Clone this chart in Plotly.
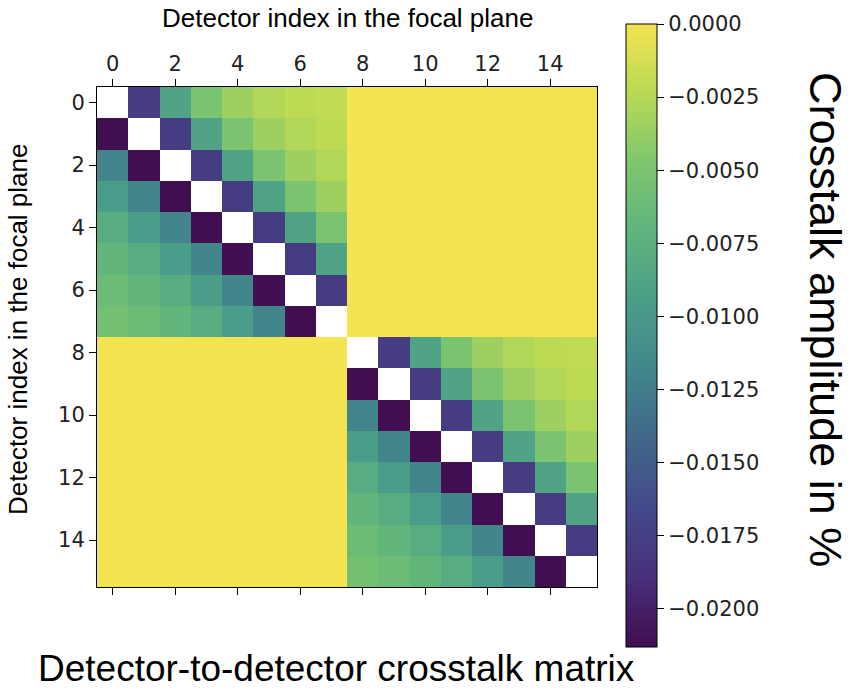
import plotly.graph_objects as go

# Detector indices
detectors = list(range(16))
tick_vals = [0, 2, 4, 6, 8, 10, 12, 14]

# Crosstalk within one group of 8 detectors (row i, column j); None = self (diagonal)
block_rows = [
    [None,    -0.0178, -0.0088, -0.0051, -0.0035, -0.0027, -0.0022, -0.0020],
    [-0.0212, None,    -0.0178, -0.0088, -0.0051, -0.0035, -0.0027, -0.0022],
    [-0.0118, -0.0212, None,    -0.0178, -0.0088, -0.0051, -0.0035, -0.0027],
    [-0.0096, -0.0118, -0.0212, None,    -0.0178, -0.0088, -0.0051, -0.0035],
    [-0.0080, -0.0096, -0.0118, -0.0212, None,    -0.0178, -0.0088, -0.0051],
    [-0.0069, -0.0080, -0.0096, -0.0118, -0.0212, None,    -0.0178, -0.0088],
    [-0.0061, -0.0069, -0.0080, -0.0096, -0.0118, -0.0212, None,    -0.0178],
    [-0.0056, -0.0061, -0.0069, -0.0080, -0.0096, -0.0118, -0.0212, None],
]
between_groups = 0.0

cbar_ticks = [0.0, -0.0025, -0.005, -0.0075, -0.01, -0.0125, -0.015, -0.0175, -0.02]
zmin, zmax = -0.0213, 0.0

# Slightly muted viridis, as seen in the reference image
colorscale = [
    [0.000, "#420d50"], [0.111, "#48307a"], [0.222, "#43498a"],
    [0.333, "#41678a"], [0.444, "#42868c"], [0.556, "#4a9e88"],
    [0.667, "#5fb57d"], [0.778, "#7fc66d"], [0.889, "#b9d955"],
    [1.000, "#f4e451"],
]

n = len(block_rows)
z = []
for i in range(2 * n):
    row = []
    for j in range(2 * n):
        if i // n == j // n:
            row.append(block_rows[i % n][j % n])
        else:
            row.append(between_groups)
    z.append(row)

tickfont = dict(family="DejaVu Sans", size=21, color="#222222")

fig = go.Figure(go.Heatmap(
    z=z, x=detectors, y=detectors,
    colorscale=colorscale, zmin=zmin, zmax=zmax,
    xgap=0, ygap=0,
    colorbar=dict(
        x=1.058, xanchor="left", xpad=0,
        y=0.503, yanchor="middle", ypad=0,
        thickness=31, thicknessmode="pixels",
        len=623, lenmode="pixels",
        outlinecolor="black", outlinewidth=1,
        tickvals=cbar_ticks, tickformat=".4f", tickprefix="\u00a0",
        ticks="outside", ticklen=7, tickcolor="black",
        tickfont=tickfont,
    ),
))

fig.update_layout(
    width=860, height=690,
    margin=dict(l=97, r=263, t=87, b=103, autoexpand=False),
    paper_bgcolor="white", plot_bgcolor="white",
    xaxis=dict(
        side="top", range=[-0.5, 15.5], tickvals=tick_vals,
        ticks="outside", ticklen=7, tickcolor="black",
        showline=True, linecolor="black", linewidth=1, mirror="ticks",
        showgrid=False, zeroline=False, tickfont=tickfont,
    ),
    yaxis=dict(
        range=[15.5, -0.5], tickvals=tick_vals,
        ticks="outside", ticklen=7, tickcolor="black",
        showline=True, linecolor="black", linewidth=1, mirror=True,
        showgrid=False, zeroline=False, tickfont=tickfont,
    ),
    annotations=[
        dict(text="Detector index in the focal plane", xref="paper", yref="paper",
             x=0.5, y=1.0, yshift=69, xanchor="center", yanchor="middle",
             showarrow=False,
             font=dict(family="Liberation Sans", size=26, color="black")),
        dict(text="Detector index in the focal plane", xref="paper", yref="paper",
             x=0, xshift=-79, y=0.5, yshift=7, xanchor="center", yanchor="middle",
             textangle=-90, showarrow=False,
             font=dict(family="Liberation Sans", size=26, color="black")),
        dict(text="Crosstalk amplitude in %", xref="paper", yref="paper",
             x=1.0, xshift=229, y=0.5, yshift=18, xanchor="center", yanchor="middle",
             textangle=90, showarrow=False,
             font=dict(family="Liberation Sans", size=45, color="black")),
        dict(text="Detector-to-detector crosstalk matrix", xref="paper", yref="paper",
             x=0.478, y=0, yshift=-81, xanchor="center", yanchor="middle",
             showarrow=False,
             font=dict(family="Liberation Sans", size=37, color="black")),
    ],
)

# remove the browser's default 8px body margin so the figure fills the window exactly
fig.write_html("out.html", config={"displayModeBar": False},
               post_script="document.body.style.margin='0';")
